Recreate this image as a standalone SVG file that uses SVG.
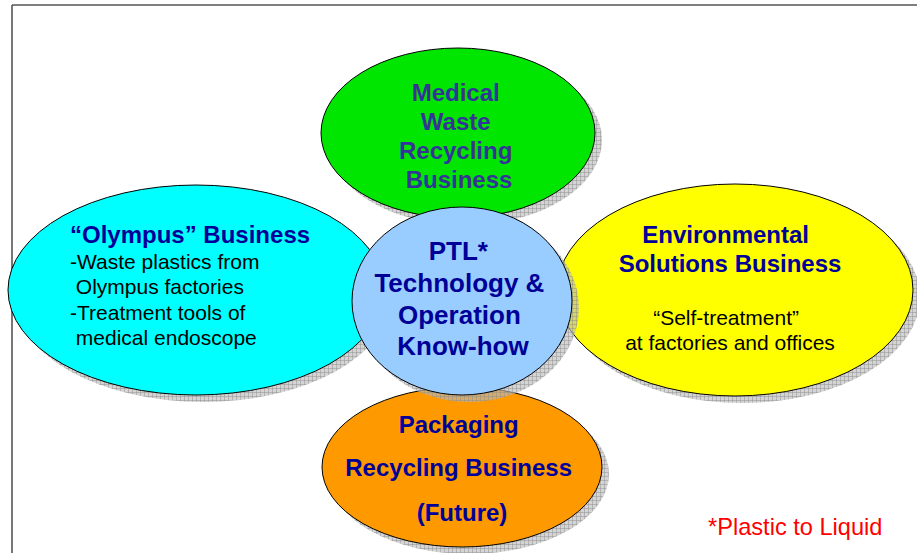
<svg xmlns="http://www.w3.org/2000/svg" width="917" height="553" viewBox="0 0 917 553">
  <defs>
    <pattern id="hatch" width="4" height="4" patternUnits="userSpaceOnUse">
      <rect width="4" height="4" fill="#b8b8b8" fill-opacity="0.6"/>
      <path d="M0 0.5H4M0.5 0V4" stroke="#8c8c8c" stroke-width="1" stroke-opacity="0.45"/>
    </pattern>
  </defs>
  <style>
    .shadow { fill: url(#hatch); }
    .shape { stroke: #000; stroke-width: 1; }
    .bold { font-family: "Liberation Sans", Arial, sans-serif; font-weight: bold; fill: #000099; text-anchor: middle; }
    .reg { font-family: "Liberation Sans", Arial, sans-serif; fill: #000; font-size: 21px; }
  </style>
  <rect width="917" height="553" fill="#fff"/>
  <g id="frame">
    <path d="M12 5H917M12 5V553" stroke="#555" stroke-width="1.6" fill="none"/>
  </g>
  <g id="connectors"/>
  <g id="medical">
    <ellipse class="shadow" cx="465" cy="140" rx="137" ry="85"/>
    <ellipse class="shape" cx="458" cy="133" rx="137" ry="85" fill="#00e600"/>
    <text class="bold" font-size="24" style="fill:#333399">
      <tspan x="459" y="101">Medical</tspan>
      <tspan x="459" y="130">Waste</tspan>
      <tspan x="459" y="159">Recycling</tspan>
      <tspan x="459" y="188">Business</tspan>
    </text>
  </g>
  <g id="olympus">
    <ellipse class="shadow" cx="203" cy="297" rx="188" ry="105"/>
    <ellipse class="shape" cx="196" cy="290" rx="188" ry="105" fill="#00ffff"/>
    <text class="bold" x="70" y="243" font-size="24" style="text-anchor:start">“Olympus” Business</text>
    <text class="reg" xml:space="preserve"><tspan x="70" y="269">-Waste plastics from</tspan><tspan x="70" y="294"> Olympus factories</tspan><tspan x="70" y="320">-Treatment tools of</tspan><tspan x="70" y="345"> medical endoscope</tspan></text>
  </g>
  <g id="environmental">
    <ellipse class="shadow" cx="742" cy="297" rx="178" ry="106"/>
    <ellipse class="shape" cx="735" cy="290" rx="178" ry="106" fill="#ffff00"/>
    <text class="bold" font-size="24">
      <tspan x="729" y="243">Environmental</tspan>
      <tspan x="730" y="272">Solutions Business</tspan>
    </text>
    <text class="reg" style="text-anchor:middle">
      <tspan x="729" y="325">“Self-treatment”</tspan>
      <tspan x="730" y="350">at factories and offices</tspan>
    </text>
  </g>
  <g id="packaging">
    <ellipse class="shadow" cx="469" cy="474" rx="140" ry="80"/>
    <ellipse class="shape" cx="462" cy="467" rx="140" ry="80" fill="#ff9900"/>
    <text class="bold" font-size="24">
      <tspan x="462" y="433">Packaging</tspan>
      <tspan x="462" y="476">Recycling Business</tspan>
      <tspan x="462" y="521">(Future)</tspan>
    </text>
  </g>
  <g id="ptl">
    <ellipse class="shadow" cx="469" cy="308" rx="110" ry="94"/>
    <ellipse class="shape" cx="462" cy="301" rx="110" ry="94" fill="#99ccff"/>
    <text class="bold" font-size="26">
      <tspan x="462" y="260">PTL*</tspan>
      <tspan x="463" y="292">Technology &amp;</tspan>
      <tspan x="463" y="324">Operation</tspan>
      <tspan x="463" y="355">Know-how</tspan>
    </text>
  </g>
  <g id="note">
    <text x="708" y="535" font-family="Liberation Sans, Arial, sans-serif" font-size="23.6" fill="#ff0000">*Plastic to Liquid</text>
  </g>
</svg>
